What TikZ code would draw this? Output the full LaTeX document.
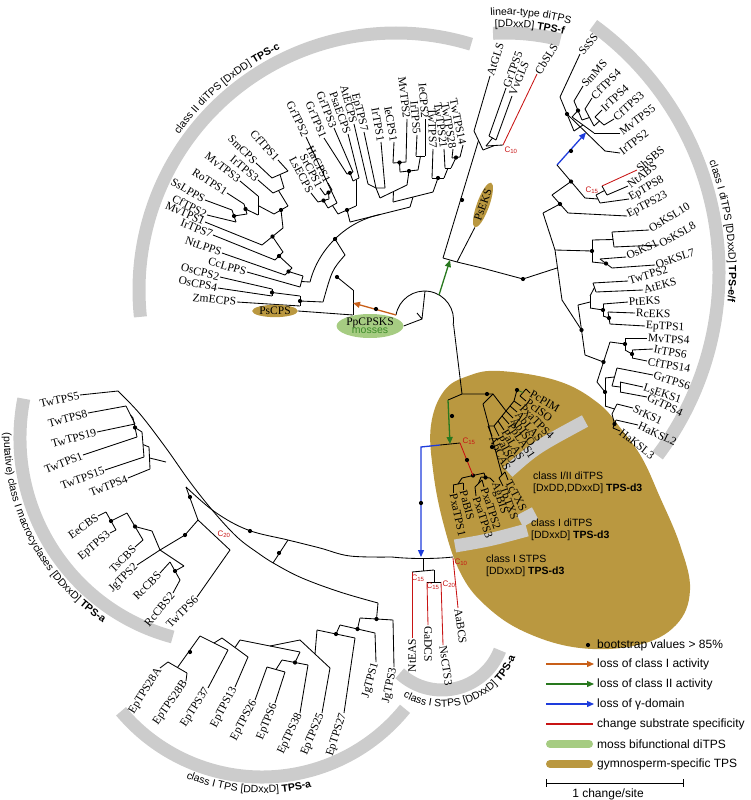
\documentclass[tikz,border=0pt]{standalone}
\usepackage{fontspec}
\setmainfont{Liberation Serif}
\newfontfamily\sfam{Liberation Sans}
\usetikzlibrary{calc,shapes.geometric,arrows.meta,decorations.text}
\definecolor{bandgray}{RGB}{204,204,204}
\definecolor{gold}{RGB}{186,152,64}
\definecolor{moss}{RGB}{166,204,130}
\definecolor{mossdark}{RGB}{60,140,40}
\definecolor{orgarrow}{RGB}{200,95,25}
\definecolor{grnarrow}{RGB}{40,120,30}
\definecolor{bluarrow}{RGB}{30,60,220}
\definecolor{redl}{RGB}{200,20,20}
\newcommand\lfont{\fontsize{11.5}{12}\selectfont}
\newcommand\cfont{\sfam\fontsize{10.5}{12}\selectfont}
\newcommand\cbfont{\sfam\bfseries\fontsize{10.5}{12}\selectfont}
\newcommand\gfont{\sfam\fontsize{12}{13}\selectfont}
\newcommand\Lf[8][black]{\node[lf,rotate=#5,anchor=#6] (#2) at (#3,-#4) {#7};\coordinate (#2a) at #8;\draw[br,#1] (#2.#6)--(#2a);}
\newcommand\J[4]{\draw[br] (#2)--(#3);\coordinate (#1) at ($(#2)!.5!(#3)$);\coordinate (#1a) at #4;\draw[br] (#1)--(#1a);}
\newcommand\D[1]{\fill #1 circle (2.1pt);}
\newcommand\Cl[4]{\node[text=redl,font=\sfam\fontsize{8}{8}\selectfont,inner sep=0pt] (#1) at (#2,-#3) {C\textsubscript{#4}};}
\tikzset{
 lf/.style={font=\lfont,inner sep=0.8pt},
 br/.style={line width=0.85pt,line join=round},
 band/.style={draw=bandgray,line width=13pt},
 arr/.style={line width=1.3pt,-{Triangle[length=7pt,width=6pt]}},
}
\begin{document}
\begin{tikzpicture}[x=1pt,y=1pt]
\useasboundingbox (0,0) rectangle (751,-800);
% ---------- gymnosperm blob ----------
\fill[gold] plot[smooth cycle,tension=0.65] coordinates {(500,-371) (558,-381) (598,-403) (622,-430) (642,-458) (659,-495) (680,-545) (690,-590) (676,-625) (638,-645) (580,-648) (525,-632) (485,-605) (460,-572) (443,-522) (433,-470) (431,-425) (444,-391) (468,-376)};
% ---------- gray bands ----------
\draw[band] ([shift={(396,-290)}]73:257) arc[start angle=73,end angle=186,radius=257];
\draw[band] ([shift={(505,-262)}]93:229) arc[start angle=93,end angle=76,radius=229];
\draw[band] ([shift={(414,-272)}]54:305) arc[start angle=54,end angle=-37,radius=305];
\draw[band] ([shift={(226,-438)}]169:206) arc[start angle=169,end angle=255,radius=206];
\draw[band] ([shift={(262,-593)}]220:184) arc[start angle=220,end angle=321,radius=184];
\draw[band] ([shift={(442,-628)}]227:62) arc[start angle=227,end angle=339,radius=62];
\draw[band] (508,-472) .. controls (535,-448) .. (585,-421);
\draw[band] (520,-521) -- (535,-513);
\draw[band] (455,-546) .. controls (490,-540) .. (527,-530);
% ---------- band labels ----------
\path[decorate,decoration={text along path,text align=center,text={|\cfont|class II diTPS [DxDD] |\cbfont|TPS-c}}] ([shift={(396,-290)}]165:267) arc[start angle=165,end angle=95,radius=267];
\path[decorate,decoration={text along path,text align=center,text={|\cfont|linear-type diTPS}}] ([shift={(505,-262)}]102:247) arc[start angle=102,end angle=66,radius=247];
\path[decorate,decoration={text along path,text align=center,text={|\cfont|[DDxxD] |\cbfont|TPS-f}}] ([shift={(505,-262)}]102:235) arc[start angle=102,end angle=66,radius=235];
\path[decorate,decoration={text along path,text align=center,text={|\cfont|class I diTPS [DDxxD] |\cbfont|TPS-e/f}}] ([shift={(414,-272)}]45:315) arc[start angle=45,end angle=-30,radius=315];
\path[decorate,decoration={text along path,text align=center,text={|\cfont|(putative) class I macrocyclases [DDxxD] |\cbfont|TPS-a}}] ([shift={(226,-438)}]160:222) arc[start angle=160,end angle=255,radius=222];
\path[decorate,decoration={text along path,text align=center,text={|\cfont|class I TPS [DDxxD] |\cbfont|TPS-a}}] ([shift={(262,-593)}]235:200) arc[start angle=235,end angle=297,radius=200];
\path[decorate,decoration={text along path,text align=center,text={|\cfont|class I STPS [DDxxD] |\cbfont|TPS-a}}] ([shift={(442,-628)}]212:79) arc[start angle=212,end angle=367,radius=79];
% ---------- class II (TPS-c) ----------
\Lf{c1}{278}{160}{-48}{east}{CfTPS1}{(288,-171)}
\Lf{c2}{256}{163}{-45}{east}{SmCPS}{(272,-178)}
\Lf{c3}{258}{180}{-40}{east}{IrTPS3}{(273,-193)}
\Lf{c4}{240}{181}{-38}{east}{MvTPS3}{(258,-196)}
\Lf{c5}{227}{193}{-33}{east}{RoTPS1}{(244,-204)}
\Lf{c6}{205}{200}{-30}{east}{SsLPPS}{(232,-210)}
\Lf{c7}{207}{215}{-27}{east}{CfTPS2}{(236,-222)}
\Lf{c8}{205}{222}{-24}{east}{MvTPS1}{(262,-245)}
\Lf{c9}{213}{235}{-22}{east}{IrTPS7}{(275,-260)}
\Lf{c10}{222}{253}{-20}{east}{NtLPPS}{(285,-275)}
\Lf{c11}{247}{272}{-16}{east}{CcLPPS}{(300,-287)}
\Lf{c12}{220}{277}{-14}{east}{OsCPS2}{(272,-289)}
\Lf{c13}{218}{288}{-12}{east}{OsCPS4}{(272,-296)}
\Lf{c14}{237}{302}{-6}{east}{ZmECPS}{(300,-306)}
\node[ellipse,fill=gold,inner sep=0.5pt,font=\lfont] (c15) at (275,-311) {PsCPS};
\coordinate (c15a) at (353,-315);
\draw[br] (c15.east)--(c15a);
\J{na1}{c1a}{c2a}{(284,-188)}
\J{na2}{na1a}{c3a}{(288,-206)}
\J{nb1}{c6a}{c7a}{(247,-214)}
\J{nb2}{c5a}{nb1a}{(258,-215)}
\J{nb3}{c4a}{nb2a}{(274,-214)}
\J{nc1}{na2a}{nb3a}{(283,-228)}
\J{nc2}{nc1a}{c8a}{(283,-252)}
\J{nc3}{nc2a}{c9a}{(292,-268)}
\J{nc4}{nc3a}{c10a}{(303,-276)}
\J{nc5}{nc4a}{c11a}{(310,-282)}
\J{no1}{c12a}{c13a}{(300,-296)}
\J{no2}{no1a}{c14a}{(323,-302)}
\D{(nb1)}\D{(nb2)}\D{(nc1)}\D{(nc2)}\D{(nc3)}\D{(nc4)}\D{(no1)}\D{(no2)}
% top group
\Lf{t1}{328}{183}{-63}{east}{HaCPS1}{(332,-190)}
\Lf{t2}{320}{188}{-63}{east}{SrCPS1}{(325,-195)}
\Lf{t3}{311}{193}{-62}{east}{LsECPS}{(318,-202)}
\Lf{t4}{306}{137}{-65}{east}{GrTPS2}{(337,-203)}
\Lf{t5}{324}{138}{-67}{east}{GrTPS1}{(347,-174)}
\Lf{t6}{334}{128}{-68}{east}{GrTPS3}{(353,-172)}
\Lf{t7}{348}{134}{-70}{east}{PsaECPS}{(359,-178)}
\Lf{t8}{354}{124}{-75}{east}{AtECPS}{(368,-184)}
\Lf{t9}{364}{132}{-76}{east}{EpTPS7}{(376,-188)}
\Lf{t10}{381}{142}{-80}{east}{IrTPS1}{(385,-188)}
\Lf{t11}{394}{142}{-80}{east}{IeCPS1}{(393,-163)}
\Lf{t12}{407}{119}{-83}{east}{MvTPS2}{(406,-162)}
\Lf{t13}{417}{135}{-85}{east}{IrTPS5}{(416,-156)}
\Lf{t14}{425}{119}{-86}{east}{IeCPS2}{(425,-156)}
\Lf{t15}{433}{149}{-88}{east}{TwTPS7}{(432,-178)}
\Lf{t16}{444}{149}{-82}{east}{TwTPS21}{(445,-168)}
\Lf{t17}{453}{149}{-80}{east}{TwTPS28}{(452,-158)}
\Lf{t18}{463}{145}{-78}{east}{TwTPS14}{(460,-157)}
\J{nt1}{t1a}{t2a}{(329,-199)}
\J{nt2}{nt1a}{t3a}{(328,-208)}
\J{nt3}{nt2a}{t4a}{(338,-214)}
\J{nt4}{t5a}{t6a}{(353,-181)}
\J{nt5}{nt4a}{t7a}{(356,-206)}
\J{nt6}{nt3a}{nt5a}{(350,-222)}
\draw[br] (t8a)--(t9a)--(t10a);
\coordinate (nt7) at (t9a); \coordinate (nt7a) at (380,-198); \draw[br] (nt7)--(nt7a);
\J{nt9}{t11a}{t12a}{(400,-172)}
\J{nt8}{t13a}{t14a}{(418,-170)}
\J{nt10}{nt9a}{nt8a}{(407,-185)}
\J{nt11}{nt7a}{nt10a}{(393,-202)}
\J{nw1}{t17a}{t18a}{(451,-168)}
\J{nw2}{t16a}{nw1a}{(444,-178)}
\J{nw3}{t15a}{nw2a}{(433,-192)}
\J{nt12}{nt11a}{nw3a}{(410,-207)}
\draw[br] (nt6a)--(nt12a);
\coordinate (nt13) at ($(nt6a)!.5!(nt12a)$);
\D{(nt1)}\D{(nt2)}\D{(nt4)}\D{(nt6)}\D{(nt9)}\D{(nt10)}\D{(nw1)}\D{(nw3)}
% class II backbone
\draw[br] (nc5a) .. controls (318,-250) and (345,-222) .. (nt13);
\coordinate (nd1) at (335,-239); \coordinate (nd1a) at (345,-255);
\draw[br] (nd1)--(nd1a); \D{(nd1)}
\draw[br] (nd1a) .. controls (332,-270) .. (no2a);
\coordinate (nd2) at (337,-277); \coordinate (nd2a) at (353,-290);
\draw[br] (nd2)--(nd2a); \D{(nd2)}
\draw[br] (nd2a)--(c15a);
\coordinate (nd3) at (353,-303);
% ---------- root ----------
\node[ellipse,fill=moss,inner sep=0pt,minimum width=60pt,minimum height=24pt,align=center] (pp) at (370,-326) {\lfont PpCPSKS\\[-4pt]{\cfont\color{mossdark}mosses}};
\coordinate (r0) at (422,-319);
\draw[br] (pp.east)--(r0);
\draw[br] (396,-315) arc[start angle=170,end angle=-10,radius=29];
\coordinate (rtop) at (425,-291);
\draw[br] (rtop)--(r0)--(417,-313);
\coordinate (rl) at (396,-315);
\draw[arr,orgarrow] (rl)--(nd3);
\D{(376,-309)}
% ---------- linear type (TPS-f) ----------
\Lf{f1}{490}{76}{72}{west}{AtGLS}{(474,-131)}
\Lf{f2}{506}{88}{70}{west}{GrTPS5}{(489,-136)}
\Lf{f3}{512}{96}{68}{west}{VvGLS}{(496,-140)}
\Lf[redl]{f4}{537}{74}{58}{west}{CbSLS}{(503,-145)}
\J{nf1}{f2a}{f3a}{(486,-146)}
\J{nf2}{nf1a}{f4a}{(483,-150)}
\J{nf3}{f1a}{nf2a}{(443,-258)}
\D{(462,-200)}
\Cl{cl1}{511}{150}{10}
\node[ellipse,fill=gold,inner sep=0.5pt,rotate=70,font=\lfont] (pseks) at (483,-205) {PsEKS};
\coordinate (pseksa) at (457,-262);
\draw[br] (pseks.west)--(pseksa);
% ---------- class I diTPS (TPS-e/f) ----------
\Lf{e1}{580}{54}{50}{west}{SsSS}{(560,-97)}
\Lf{e2}{583}{86}{48}{west}{SmMS}{(574,-101)}
\Lf{e3}{592}{98}{45}{west}{CfTPS4}{(585,-109)}
\Lf{e4}{602}{110}{43}{west}{IrTPS4}{(595,-117)}
\Lf{e5}{614}{119}{42}{west}{CfTPS3}{(604,-125)}
\Lf{e6}{620}{133}{37}{west}{MvTPS5}{(594,-133)}
\Lf{e7}{620}{153}{38}{west}{IrTPS2}{(605,-151)}
\Lf[redl]{e8}{637}{170}{40}{west}{ShSBS}{(602,-186)}
\Lf{e9}{628}{186}{38}{west}{NtABS}{(607,-195)}
\Lf{e10}{629}{199}{30}{west}{EpTPS8}{(600,-203)}
\Lf{e11}{627}{216}{28}{west}{EpTPS23}{(568,-213)}
\Lf{e12}{649}{230}{32}{west}{OsKSL10}{(612,-232)}
\Lf{e13}{659}{245}{30}{west}{OsKSL8}{(614,-247)}
\Lf{e14}{626}{257}{25}{west}{OsKS1}{(600,-259)}
\Lf{e15}{655}{265}{18}{west}{OsKSL7}{(612,-268)}
\Lf{e16}{628}{281}{17}{west}{TwTPS2}{(593,-283)}
\Lf{e17}{643}{290}{15}{west}{AtEKS}{(596,-292)}
\Lf{e18}{628}{302}{3}{west}{PtEKS}{(603,-304)}
\Lf{e19}{635}{313}{-2}{west}{RcEKS}{(608,-312)}
\Lf{e20}{645}{326}{-3}{west}{EpTPS1}{(610,-324)}
\Lf{e21}{647}{338}{-3}{west}{MvTPS4}{(625,-338)}
\Lf{e22}{653}{349}{-10}{west}{IrTPS6}{(632,-350)}
\Lf{e23}{647}{361}{-10}{west}{CfTPS14}{(632,-358)}
\Lf{e24}{653}{375}{-17}{west}{GrTPS6}{(617,-368)}
\Lf{e25}{643}{387}{-18}{west}{LsEKS1}{(620,-382)}
\Lf{e26}{647}{397}{-25}{west}{GrTPS4}{(620,-392)}
\Lf{e27}{633}{408}{-25}{west}{SrKS1}{(617,-404)}
\Lf{e28}{638}{425}{-25}{west}{HaKSL2}{(616,-420)}
\Lf{e29}{620}{431}{-38}{west}{HaKSL3}{(613,-428)}
\J{nk1}{e4a}{e5a}{(594,-126)}
\J{nk2}{e3a}{nk1a}{(582,-120)}
\J{nk3}{e2a}{nk2a}{(572,-117)}
\J{nk4}{nk3a}{e6a}{(574,-131)}
\J{nk5}{e1a}{nk4a}{(567,-114)}
\draw[br] (nk5a)--(e7a);
\coordinate (nk6) at ($(nk5a)!.5!(e7a)$);
\coordinate (nk6a) at (557,-165);
\draw[arr,bluarrow] (nk6a)--(nk6);
\D{(571,-151)}
\J{nk8}{e8a}{e9a}{(596,-195)}
\J{nk9}{nk8a}{e10a}{(585,-198)}
\J{nk7}{nk6a}{nk9a}{(552,-195)}
\J{nk10}{nk7a}{e11a}{(543,-213)}
\J{nk11}{e12a}{e13a}{(592,-240)}
\J{nk12}{e14a}{e15a}{(592,-262)}
\J{nk13}{nk11a}{nk12a}{(555,-250)}
\J{nk14}{e16a}{e17a}{(590,-296)}
\J{nk15}{e19a}{e20a}{(603,-316)}
\J{nk16}{e18a}{nk15a}{(590,-308)}
\J{nk17}{nk14a}{nk16a}{(578,-305)}
\J{nk18}{e22a}{e23a}{(625,-350)}
\J{nk19}{e21a}{nk18a}{(610,-342)}
\J{nk20}{e28a}{e29a}{(612,-414)}
\J{nk21}{e27a}{nk20a}{(605,-406)}
\J{nk22}{e25a}{e26a}{(612,-386)}
\J{nk23}{e24a}{nk22a}{(605,-378)}
\J{nk24}{nk23a}{nk21a}{(597,-382)}
\J{nk25}{nk19a}{nk24a}{(585,-355)}
\J{nk26}{nk17a}{nk25a}{(562,-300)}
\draw[br] (nk10a)--(nk13a)--(nk26a);
\coordinate (nk28) at (557,-268);
\coordinate (nk28a) at (482,-268);
\draw[br] (nk28)--(523,-279)--(nk28a);
\D{(523,-279)}\D{(nk7)}\D{(nk10)}\D{(nk12)}\D{(nk13)}\D{(nk15)}\D{(nk16)}\D{(nk18)}\D{(nk19)}\D{(nk20)}\D{(nk24)}\D{(nk25)}\D{(nk26)}\D{(nk3)}\D{(nk5)}
\Cl{cl2}{592}{190}{15}
% centre connection
\draw[br] (nf3a)--(pseksa)--(nk28a);
\coordinate (np) at (450,-260);
\coordinate (rg) at (439,-295);
\draw[arr,grnarrow] (rg)--(np);
% ---------- gymnosperm interior ----------
\coordinate (rr) at (453.6,-325);
\coordinate (ng0) at (462,-394);
\draw[br] (rr)--(ng0);
\draw[br] (448,-400)--(ng0)--(493,-394);
\Lf{g1}{530}{393}{-30}{west}{PcPIM}{(526,-389)}
\Lf{g2}{526}{401}{-36}{west}{PcISO}{(520,-396)}
\Lf{g3}{521}{406}{-45}{west}{PxaTPS4}{(514,-401)}
\Lf{g4}{517}{412}{-50}{west}{AbLAS}{(510,-406)}
\Lf{g5}{513}{418}{-53}{west}{AbISO}{(506,-411)}
\Lf{g6}{509}{424}{-56}{west}{PpLAS1}{(502,-416)}
\Lf{g7}{504}{430}{-59}{west}{PaLAS}{(498,-421)}
\Lf{g8}{499}{436}{-62}{west}{PaISO}{(494,-426)}
\Lf{g9}{492}{436}{-65}{west}{AbCAS}{(488,-426)}
\draw[br] (g1a)--(g2a);
\coordinate (nu1) at ($(g1a)!.5!(g2a)$);
\draw[br,grnarrow] (nu1)--(517,-390);
\D{(517,-390)}
\draw[br] (517,-390)--(g3a)--(g4a)--(g5a)--(g6a)--(g7a)--(g8a)--(g9a);
\coordinate (nu2) at (506,-411);
\draw[br] (nu2)--(493,-394);
\D{(487,-394)}
\Lf{g10}{508}{480}{-62}{west}{TcTXS}{(505,-472)}
\Lf{g11}{503}{486}{-70}{west}{TbTXS}{(499,-478)}
\J{ng5}{g10a}{g11a}{(483,-404)}
\draw[br] (ng5a)--(493,-394);
\D{(492,-447)}
\Lf{g12}{494}{482}{-72}{west}{AgBIS}{(490,-478)}
\Lf{g13}{484}{487}{-72}{west}{PxaTPS2}{(482,-480)}
\Lf{g14}{476}{496}{-72}{west}{PxaTPS3}{(475,-487)}
\Lf{g15}{463}{490}{-75}{west}{PaBIS}{(463,-483)}
\Lf{g16}{453}{493}{-78}{west}{PxaTPS1}{(453,-485)}
\J{ng1}{g16a}{g15a}{(462,-478)}
\J{ng2}{g14a}{g13a}{(481,-477)}
\J{ng3}{ng2a}{g12a}{(484,-473)}
\draw[br] (ng1a)--(ng3a);
\coordinate (ng4) at ($(ng1a)!.5!(ng3a)$);
\D{(ng3)}\D{(ng4)}
\coordinate (n15) at (450,-444);
\draw[br] (440,-445)--(n15)--(460,-443);
\draw[br,redl] (460,-443)--(ng4);
\D{(467,-460)}
\Cl{cl3}{469}{441}{15}
\draw[arr,grnarrow] (448,-400)--(n15);
\D{(452,-416)}
% ---------- STPS ----------
\coordinate (ns) at (421,-557);
\draw[arr,bluarrow] (440,-445)--(421,-447)--(ns);
\D{(421,-503)}
\draw[br] (392,-557) .. controls (410,-559) and (435,-559) .. (453,-557);
\Lf[redl]{s1}{412}{638}{90}{east}{NtEAS}{(412,-572)}
\Lf[redl]{s2}{428}{625}{-90}{west}{GaDCS}{(427,-582)}
\Lf[redl]{s3}{443}{645}{-82}{west}{NsCTS3}{(441,-582)}
\Lf[redl]{s4}{458}{608}{-82}{west}{AaBCS}{(453,-558)}
\J{ns1}{s2a}{s3a}{(434,-570)}
\J{ns2}{s1a}{ns1a}{(423,-559)}
\Cl{cl4}{461}{562}{10}
\Cl{cl5}{418}{578}{15}
\Cl{cl6}{433}{586}{15}
\Cl{cl7}{449}{584}{20}
% ---------- macrocyclases ----------
\Lf{m1}{80}{395}{13}{east}{TwTPS5}{(118,-391)}
\Lf{m2}{88}{413}{15}{east}{TwTPS8}{(126,-406)}
\Lf{m3}{97}{432}{15}{east}{TwTPS19}{(135,-424)}
\Lf{m4}{83}{455}{22}{east}{TwTPS1}{(137,-437)}
\Lf{m5}{105}{470}{20}{east}{TwTPS15}{(144,-457)}
\Lf{m6}{128}{478}{22}{east}{TwTPS4}{(150,-469)}
\Lf{m7}{98}{516}{35}{east}{EeCBS}{(106,-512)}
\Lf{m8}{110}{533}{40}{east}{EpTPS3}{(116,-530)}
\Lf{m9}{135}{547}{45}{east}{TsCBS}{(143,-540)}
\Lf{m10}{137}{565}{45}{east}{JgTPS2}{(160,-550)}
\Lf{m11}{160}{573}{45}{east}{RcCBS}{(170,-562)}
\Lf{m12}{173}{593}{50}{east}{RcCBS2}{(180,-580)}
\Lf{m13}{197}{597}{45}{east}{TwTPS6}{(230,-550)}
\J{ny1}{m2a}{m3a}{(133,-418)}
\J{ny2}{ny1a}{m4a}{(142,-432)}
\J{ny3}{ny2a}{m5a}{(149,-447)}
\J{ny4}{ny3a}{m6a}{(158,-460)}
\draw[br] (ny4a)--(166,-462);
\D{(ny2)}
\J{nx1}{m7a}{m8a}{(127,-513)}
\J{nx2}{nx1a}{m9a}{(152,-531)}
\J{nx3}{m11a}{m12a}{(184,-566)}
\draw[br] (nx2a)--(m10a)--(nx3a);
\coordinate (nx4) at (m10a); \coordinate (nx4a) at (185,-535);
\draw[br] (nx4)--(nx4a);
\draw[br] (nx4a)--(198,-520)--(m13a);
\coordinate (nx5) at (198,-520); \coordinate (nx5a) at (186,-487);
\draw[br] (nx5)--(nx5a);
\D{(nx1)}\D{(nx2)}\D{(nx3)}\D{(nx4a)}\D{(190,-497)}
\Cl{cl8}{224}{534}{20}
% long TPS-a arcs
\coordinate (lb0) at (m1a);
\draw[br] plot[smooth,tension=0.6] coordinates {(lb0) (140,-414) (166,-448) (190,-482) (213,-511) (237,-537) (258,-553) (275,-564) (302,-578) (340,-592) (378,-603)};
\coordinate (lbn) at (273,-563);
\coordinate (lbna) at (288,-540);
\draw[br] (lbn)--(lbna);
\D{(279,-553)}
\draw[br] plot[smooth,tension=0.6] coordinates {(nx5a) (215,-512) (248,-530) (288,-540) (320,-548) (350,-556) (392,-557)};
\D{(250,-531)}
% ---------- class I TPS (bottom) ----------
\Lf{b1}{160}{668}{58}{east}{EpTPS28A}{(168,-662)}
\Lf{b2}{186}{681}{55}{east}{EpTPS28B}{(187,-673)}
\Lf{b3}{208}{688}{57}{east}{EpTPS37}{(228,-650)}
\Lf{b4}{235}{687}{62}{east}{EpTPS13}{(248,-657)}
\Lf{b5}{255}{700}{62}{east}{EpTPS26}{(267,-667)}
\Lf{b6}{275}{703}{68}{east}{EpTPS6}{(285,-672)}
\Lf{b7}{300}{713}{65}{east}{EpTPS38}{(308,-665)}
\Lf{b8}{322}{713}{67}{east}{EpTPS25}{(330,-668)}
\Lf{b9}{344}{713}{72}{east}{EpTPS27}{(355,-638)}
\Lf{b10}{376}{662}{74}{east}{JgTPS1}{(375,-633)}
\Lf{b11}{394}{667}{78}{east}{JgTPS3}{(393,-620)}
\J{nw1b}{b1a}{b2a}{(200,-636)}
\J{nw2b}{nw1ba}{b3a}{(222,-638)}
\J{nwa}{nw2ba}{b4a}{(240,-640)}
\J{nwb}{b5a}{b6a}{(282,-660)}
\J{nwc}{nwba}{b7a}{(300,-652)}
\J{nwd}{nwaa}{nwca}{(300,-640)}
\J{nwe}{nwda}{b8a}{(317,-630)}
\J{nwf}{nwea}{b9a}{(340,-625)}
\J{nwg}{nwfa}{b10a}{(360,-618)}
\J{nwh}{nwga}{b11a}{(378,-603)}
\D{(190,-652)}\D{(nwc)}\D{(nwf)}\D{(nwg)}\D{(nwh)}
% ---------- gymno labels ----------
\node[anchor=north west,align=left,font=\cfont,inner sep=0pt] (lg1) at (533,-472) {class I/II diTPS\\{}[DxDD,DDxxD] \textbf{TPS-d3}};
\node[anchor=north west,align=left,font=\cfont,inner sep=0pt] (lg2) at (531,-519) {class I diTPS\\{}[DDxxD] \textbf{TPS-d3}};
\node[anchor=north west,align=left,font=\cfont,inner sep=0pt] (lg3) at (486,-555) {class I STPS\\{}[DDxxD] \textbf{TPS-d3}};
% ---------- legend ----------
\fill (588,-645) circle (2.1pt);
\node[anchor=west,font=\gfont,inner sep=0pt] (k1) at (597,-645) {bootstrap values > 85\%};
\draw[arr,orgarrow] (546,-664)--(594,-664);
\node[anchor=west,font=\gfont,inner sep=0pt] (k2) at (597,-664) {loss of class I activity};
\draw[arr,grnarrow] (546,-684)--(594,-684);
\node[anchor=west,font=\gfont,inner sep=0pt] (k3) at (597,-684) {loss of class II activity};
\draw[arr,bluarrow] (546,-704)--(594,-704);
\node[anchor=west,font=\gfont,inner sep=0pt] (k4) at (597,-704) {loss of γ-domain};
\draw[line width=1.2pt,redl] (546,-724)--(593,-724);
\node[anchor=west,font=\gfont,inner sep=0pt] (k5) at (597,-724) {change substrate specificity};
\draw[line width=8pt,moss,line cap=round] (550,-744)--(589,-744);
\node[anchor=west,font=\gfont,inner sep=0pt] (k6) at (597,-744) {moss bifunctional diTPS};
\draw[line width=8pt,gold,line cap=round] (550,-764)--(589,-764);
\node[anchor=west,font=\gfont,inner sep=0pt] (k7) at (597,-764) {gymnosperm-specific TPS};
\draw[line width=0.9pt] (546,-783)--(683,-783) (546,-779)--(546,-787) (683,-779)--(683,-787);
\node[font=\gfont,inner sep=0pt] (k8) at (608,-794) {1 change/site};
\end{tikzpicture}
\end{document}
